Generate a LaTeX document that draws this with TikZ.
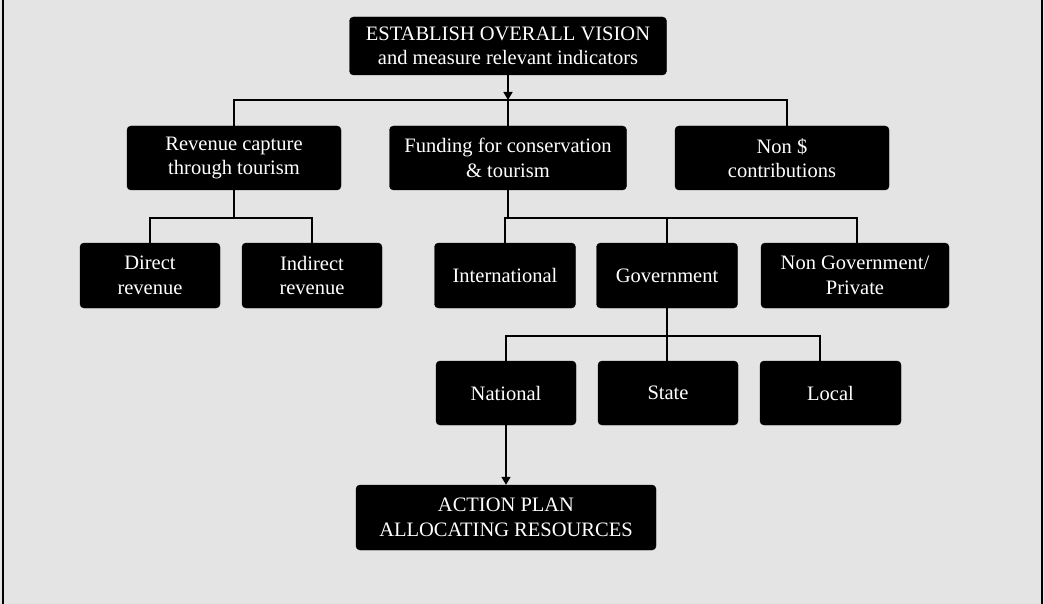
\documentclass[tikz,border=0pt]{standalone}
\usepackage{fontspec}
\setmainfont{Liberation Serif}
\usetikzlibrary{arrows.meta}

\definecolor{panel}{RGB}{228,228,228}

\tikzset{
  box/.style={draw=black, fill=black, text=white, rounded corners=4pt,
    align=center, inner sep=2pt, minimum height=64pt,
    font=\fontsize{20.5}{24.5}\selectfont},
  wire/.style={draw=black, line width=1.6pt},
  arr/.style={wire, -{Triangle[width=9pt,length=8pt]}}
}

\begin{document}
\begin{tikzpicture}[x=1pt, y=-1pt]
  % panel
  \fill[panel] (0,0) rectangle (1044,604);
  \useasboundingbox (0,0) rectangle (1044,604);
  \draw[line width=2pt] (2.5,0) -- (2.5,604);
  \draw[line width=2pt] (1041.5,0) -- (1041.5,604);

  % boxes
  \node[box, minimum width=317pt, minimum height=58pt] (top) at (508,46)
    {ESTABLISH OVERALL VISION\\and measure relevant indicators};

  \node[box, minimum width=214pt] (rev)  at (234,158) {Revenue capture\\through tourism};
  \node[box, minimum width=237pt] (fund) at (508,158) {Funding for conservation\\\& tourism};
  \node[box, minimum width=214pt] (nond) at (782,158) {Non \$\\contributions};

  \node[box, minimum width=140pt, minimum height=65pt] (dir)  at (150,275.5) {Direct\\revenue};
  \node[box, minimum width=140pt, minimum height=65pt] (ind)  at (312,275.5) {Indirect\\revenue};
  \node[box, minimum width=141pt, minimum height=65pt] (intl) at (505,275.5) {International};
  \node[box, minimum width=141pt, minimum height=65pt] (gov)  at (667,275.5) {Government};
  \node[box, minimum width=188pt, minimum height=65pt] (ngo)  at (855,275.5) {Non Government/\\Private};

  \node[box, minimum width=140pt] (nat)   at (506,393) {National};
  \node[box, minimum width=140pt] (state) at (668,393) {State};
  \node[box, minimum width=141pt] (local) at (830.5,393) {Local};

  \node[box, minimum width=300pt, minimum height=65pt] (act) at (506,517.5)
    {ACTION PLAN\\ALLOCATING RESOURCES};

  % bus levels and off-centre drop points
  \coordinate (b1) at (0,100);
  \coordinate (b2) at (0,218);
  \coordinate (b3) at (0,336);
  \coordinate (dnond)  at (787,100);
  \coordinate (dngo)   at (857,218);
  \coordinate (dgov)   at (667,336);
  \coordinate (dlocal) at (820,336);

  % top level
  \draw[arr] (top.south) -- (top.south |- b1);
  \draw[wire] (rev.north) -- (rev.north |- b1) -- (dnond) -- (dnond |- nond.north);
  \draw[wire] (fund.north |- b1) -- (fund.north);

  % revenue branch
  \draw[wire] (rev.south) -- (rev.south |- b2);
  \draw[wire] (dir.north) -- (dir.north |- b2) -- (ind.north |- b2) -- (ind.north);

  % funding branch
  \draw[wire] (fund.south) -- (fund.south |- b2);
  \draw[wire] (intl.north) -- (intl.north |- b2) -- (dngo) -- (dngo |- ngo.north);
  \draw[wire] (gov.north |- b2) -- (gov.north);

  % government branch
  \draw[wire] (gov.south) -- (dgov);
  \draw[wire] (nat.north) -- (nat.north |- b3) -- (dlocal) -- (dlocal |- local.north);
  \draw[wire] (dgov) -- (dgov |- state.north);

  % to the action plan
  \draw[arr] (nat.south) -- (act.north);
\end{tikzpicture}
\end{document}
